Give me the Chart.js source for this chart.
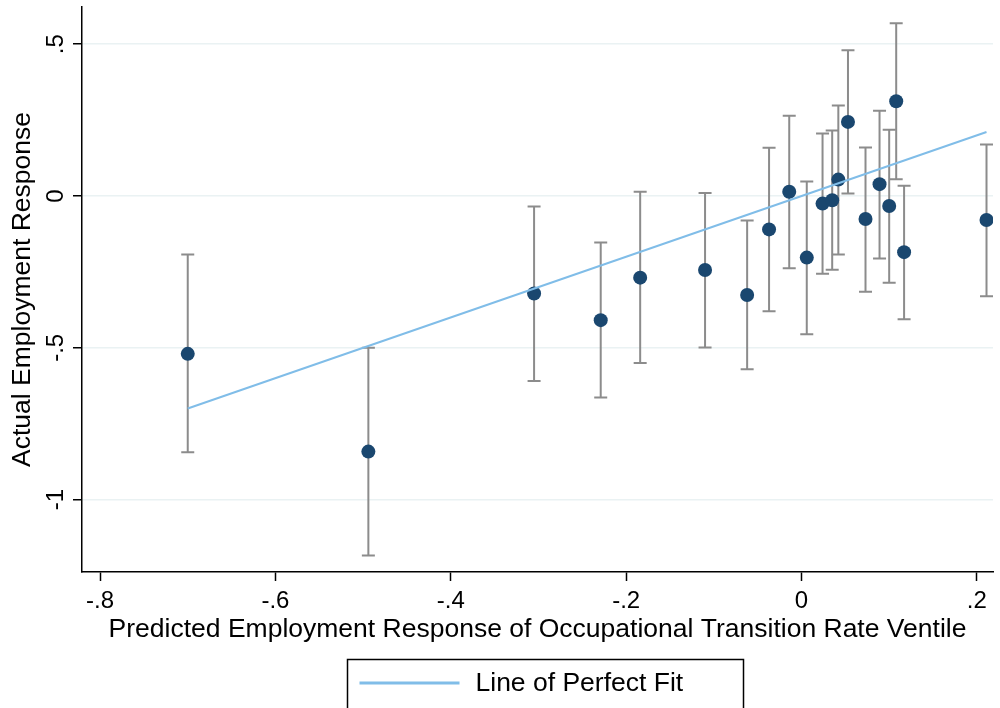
<!DOCTYPE html>
<html>
<head>
<meta charset="utf-8">
<script src="https://cdn.jsdelivr.net/npm/chart.js@4.4.1/dist/chart.umd.min.js"></script>
<style>
  html, body { margin: 0; padding: 0; background: #ffffff; }
  #wrap { width: 1000px; height: 708px; }
</style>
</head>
<body>
<div id="wrap"><canvas id="c" width="1000" height="708"></canvas></div>
<script>
// Ventile estimates: predicted response, actual response and its confidence interval
const predicted = [-0.700, -0.494, -0.305, -0.229, -0.184, -0.110, -0.062, -0.037, -0.014, 0.006,
                    0.024,  0.035,  0.042,  0.053,  0.073,  0.089,  0.100,  0.108,  0.117, 0.211];
const actual    = [-0.520, -0.842, -0.321, -0.409, -0.269, -0.244, -0.326, -0.110, 0.014, -0.203,
                   -0.025, -0.014,  0.054,  0.244, -0.076,  0.039, -0.033,  0.312, -0.185, -0.079];
const ciLow     = [-0.844, -1.184, -0.609, -0.664, -0.550, -0.499, -0.571, -0.380, -0.238, -0.455,
                   -0.256, -0.243, -0.193,  0.008, -0.315, -0.206, -0.286,  0.055, -0.406, -0.330];
const ciHigh    = [-0.193, -0.500, -0.035, -0.153,  0.014,  0.010, -0.081,  0.159,  0.264,  0.048,
                    0.206,  0.216,  0.298,  0.480,  0.160,  0.281,  0.218,  0.569,  0.034,  0.170];

const xTickValues = [-0.8, -0.6, -0.4, -0.2, 0, 0.2];
const xTickLabels = ['-.8', '-.6', '-.4', '-.2', '0', '.2'];
const yTickValues = [-1, -0.5, 0, 0.5];
const yTickLabels = ['-1', '-.5', '0', '.5'];

const xTitle = 'Predicted Employment Response of Occupational Transition Rate Ventile';
const yTitle = 'Actual Employment Response';
const fitLabel = 'Line of Perfect Fit';

// 45-degree line spanning the range of predicted responses
const fitEnds = [Math.min(...predicted), Math.max(...predicted)];

const FONT = "'Liberation Sans', Arial, Helvetica, sans-serif";
const DOT = '#1a476f';
const BAR = '#8c8c8c';
const FIT = '#80bde8';
const GRID = '#eaf2f3';

// Capped vertical confidence intervals, drawn beneath the markers
const errorBars = {
  id: 'errorBars',
  beforeDatasetsDraw(chart) {
    const { ctx, scales: { x, y } } = chart;
    ctx.save();
    ctx.strokeStyle = BAR;
    ctx.lineWidth = 2;
    const cap = 6.5;
    predicted.forEach((v, i) => {
      const px = x.getPixelForValue(v);
      const top = y.getPixelForValue(ciHigh[i]);
      const bot = y.getPixelForValue(ciLow[i]);
      ctx.beginPath();
      ctx.moveTo(px, top); ctx.lineTo(px, bot);
      ctx.moveTo(px - cap, top); ctx.lineTo(px + cap, top);
      ctx.moveTo(px - cap, bot); ctx.lineTo(px + cap, bot);
      ctx.stroke();
    });
    ctx.restore();
  }
};

// Framed legend entry below the axis title
const boxedLegend = {
  id: 'boxedLegend',
  afterDraw(chart, args, opts) {
    const { ctx } = chart;
    const ds = chart.data.datasets.find(d => d.label === fitLabel);
    ctx.save();
    ctx.strokeStyle = '#000';
    ctx.lineWidth = 1.5;
    ctx.strokeRect(opts.left, opts.top, opts.width, opts.height);
    ctx.strokeStyle = ds.borderColor;
    ctx.lineWidth = 3;
    ctx.beginPath();
    ctx.moveTo(opts.left + 12, opts.lineY);
    ctx.lineTo(opts.left + 112, opts.lineY);
    ctx.stroke();
    ctx.fillStyle = '#000';
    ctx.font = opts.font;
    ctx.textBaseline = 'middle';
    ctx.textAlign = 'left';
    ctx.fillText(ds.label, opts.left + 128, opts.lineY + 1);
    ctx.restore();
  }
};

new Chart(document.getElementById('c'), {
  data: {
    datasets: [
      {
        type: 'line',
        label: fitLabel,
        data: fitEnds.map(v => ({ x: v, y: v })),
        borderColor: FIT,
        borderWidth: 2,
        pointRadius: 0,
        fill: false,
        order: 0
      },
      {
        type: 'scatter',
        label: 'Ventiles',
        data: predicted.map((v, i) => ({ x: v, y: actual[i] })),
        backgroundColor: DOT,
        borderWidth: 0,
        pointRadius: 7,
        order: 1
      }
    ]
  },
  options: {
    responsive: false,
    animation: false,
    devicePixelRatio: 1,
    layout: { padding: { top: 4, right: 3, left: 0, bottom: 56 } },
    plugins: {
      legend: { display: false },
      tooltip: { enabled: false },
      boxedLegend: {
        left: 347.5, top: 659.5, width: 396, height: 70, lineY: 683,
        font: '26.5px ' + FONT
      }
    },
    scales: {
      x: {
        type: 'linear',
        min: -0.8206,
        max: 0.2184,
        afterFit: s => { s.height = 80; s.paddingLeft = 0; s.paddingRight = 0; },
        afterBuildTicks: s => { s.ticks = xTickValues.map(v => ({ value: v })); },
        border: { display: true, color: '#000', width: 1.5 },
        grid: { drawOnChartArea: false, drawTicks: true, tickLength: 9, tickColor: '#000', tickWidth: 1.5 },
        ticks: {
          padding: 6,
          color: '#000',
          font: { family: FONT, size: 24 },
          maxRotation: 0,
          autoSkip: false,
          callback: (v, i) => xTickLabels[i]
        },
        title: {
          display: true,
          text: xTitle,
          color: '#000',
          font: { family: FONT, size: 26.5 },
          padding: { top: 0, bottom: 6 }
        }
      },
      y: {
        type: 'linear',
        min: -1.2385,
        max: 0.6225,
        afterFit: s => { s.width = 82; s.paddingTop = 0; s.paddingBottom = 0; },
        afterBuildTicks: s => { s.ticks = yTickValues.map(v => ({ value: v })); },
        border: { display: true, color: '#000', width: 1.5 },
        grid: { color: GRID, lineWidth: 1.5, drawTicks: true, tickLength: 9, tickColor: '#000', tickWidth: 1.5 },
        ticks: {
          padding: 3,
          color: '#000',
          font: { family: FONT, size: 24 },
          minRotation: 90,
          maxRotation: 90,
          crossAlign: 'center',
          autoSkip: false,
          callback: (v, i) => yTickLabels[i]
        },
        title: {
          display: true,
          text: yTitle,
          color: '#000',
          font: { family: FONT, size: 26.5 },
          padding: { top: 7, bottom: 0 }
        }
      }
    }
  },
  plugins: [errorBars, boxedLegend]
});
</script>
</body>
</html>
